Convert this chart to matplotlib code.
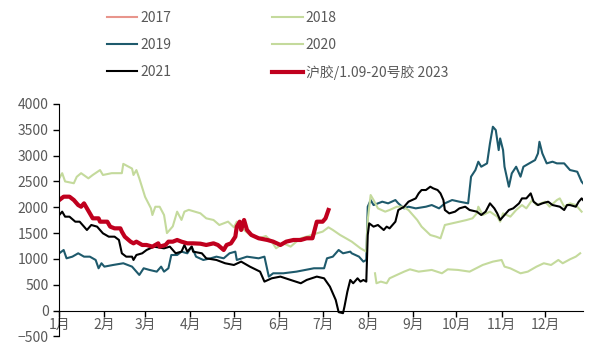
import matplotlib
matplotlib.use("Agg")
import matplotlib.pyplot as plt

plt.rcParams['font.family'] = ['Noto Sans CJK SC', 'DejaVu Sans']

# 月份刻度（年内第几天）
month_days = [0, 31, 59, 90, 120, 151, 181, 212, 243, 273, 304, 334]
month_labels = ["1月", "2月", "3月", "4月", "5月", "6月", "7月", "8月", "9月", "10月", "11月", "12月"]

# 2018（8月开始）
d2018 = [217, 218, 221, 225, 227, 232, 237, 241, 247, 256, 263, 267, 274, 282, 291, 298, 304, 306,
         310, 317, 322, 328, 333, 338, 343, 346, 351, 355, 358]
v2018 = [722, 529, 561, 529, 625, 690, 754, 799, 754, 787, 722, 799, 787, 754, 883, 948, 980, 851,
         818, 722, 754, 851, 916, 883, 980, 916, 993, 1044, 1109]

# 2019
d2019 = [0, 3, 5, 9, 13, 17, 21, 25, 27, 29, 31, 37, 44, 50, 55, 58, 62, 67, 70, 72, 75, 77, 81, 84,
         88, 91, 94, 99, 104, 108, 113, 117, 121, 122, 129, 137, 141, 144, 147, 154, 163, 175, 182,
         184, 188, 192, 195, 200, 201, 206, 209, 211, 212, 214, 216, 222, 226, 231, 233, 237, 240,
         245, 252, 256, 261, 265, 270, 275, 281, 283, 286, 288, 290, 294, 296, 298, 300, 302, 303,
         305, 306, 309, 311, 314, 317, 319, 323, 327, 329, 330, 332, 335, 339, 342, 347, 351, 356,
         359, 361]
v2019 = [1109, 1173, 1012, 1044, 1109, 1044, 1044, 980, 819, 916, 851, 883, 916, 851, 690, 819, 787,
         754, 851, 754, 819, 1076, 1076, 1141, 1109, 1238, 1044, 980, 1012, 1044, 1012, 1109, 1141,
         980, 1044, 1012, 1044, 657, 722, 722, 754, 819, 819, 1012, 1044, 1173, 1109, 1141, 1109,
         1044, 948, 980, 2011, 2140, 2043, 2108, 2076, 2140, 2076, 1979, 2011, 1979, 2011, 2043,
         1979, 2076, 2140, 2108, 2076, 2592, 2721, 2882, 2785, 2850, 3236, 3559, 3494, 3107, 3333,
         3107, 2785, 2398, 2656, 2785, 2592, 2785, 2850, 2914, 3043, 3268, 3043, 2850, 2882, 2850,
         2850, 2721, 2688, 2495, 2430]

# 2020
d2020 = [0, 2, 4, 10, 12, 15, 20, 23, 28, 30, 36, 43, 44, 50, 51, 53, 55, 59, 63, 64, 66, 69, 72,
         74, 78, 81, 84, 86, 89, 97, 101, 106, 110, 116, 120, 122, 127, 131, 137, 142, 146, 149,
         154, 159, 163, 166, 170, 177, 181, 185, 188, 193, 197, 201, 207, 211, 212, 214, 216, 219,
         224, 227, 232, 236, 240, 242, 246, 249, 255, 259, 262, 265, 270, 275, 280, 284, 287, 288,
         291, 296, 301, 303, 305, 310, 314, 318, 321, 325, 328, 334, 337, 342, 344, 347, 351, 355,
         359]
v2020 = [2560, 2660, 2500, 2465, 2590, 2660, 2560, 2625, 2720, 2625, 2660, 2660, 2840, 2750, 2625,
         2720, 2560, 2200, 1980, 1850, 2010, 2010, 1850, 1500, 1630, 1915, 1755, 1915, 1950, 1883,
         1786, 1754, 1657, 1722, 1612, 1722, 1561, 1464, 1400, 1444, 1335, 1206, 1303, 1238, 1335,
         1400, 1432, 1496, 1528, 1612, 1561, 1464, 1400, 1335, 1206, 1141, 1754, 2237, 2140, 1979,
         1915, 1947, 2011, 2011, 1947, 1882, 1754, 1625, 1463, 1431, 1399, 1657, 1689, 1721, 1754,
         1786, 1883, 2011, 1850, 1915, 1818, 1721, 1883, 1818, 1947, 2043, 1979, 2140, 2043, 2108,
         2011, 2140, 2172, 2011, 2076, 2043, 1915]

# 2021
d2021 = [0, 2, 4, 7, 11, 14, 17, 19, 22, 26, 28, 30, 34, 38, 41, 43, 46, 50, 51, 53, 57, 60, 65,
         72, 76, 80, 84, 86, 88, 91, 92, 98, 101, 108, 114, 120, 125, 131, 138, 141, 146, 152, 159,
         166, 170, 177, 182, 186, 190, 192, 195, 196, 198, 200, 202, 205, 207, 209, 211, 212, 213,
         216, 219, 223, 225, 227, 231, 233, 237, 240, 245, 247, 249, 252, 255, 257, 260, 262, 264,
         265, 268, 272, 275, 279, 282, 287, 290, 293, 296, 299, 301, 303, 305, 309, 312, 316, 318,
         321, 324, 326, 329, 332, 336, 339, 344, 347, 349, 351, 355, 357, 359, 361]
v2021 = [1850, 1915, 1818, 1818, 1721, 1721, 1625, 1560, 1657, 1625, 1560, 1496, 1431, 1431, 1367,
         1109, 1044, 1044, 980, 1076, 1109, 1173, 1238, 1205, 1238, 1109, 1141, 1270, 1141, 1238,
         1141, 1109, 1012, 980, 916, 883, 948, 851, 754, 561, 625, 658, 593, 529, 593, 658, 625,
         464, 206, -30, -50, 77, 367, 593, 529, 625, 561, 593, 561, 1463, 1689, 1625, 1657, 1560,
         1625, 1592, 1721, 1947, 2011, 2108, 2172, 2269, 2334, 2334, 2398, 2366, 2334, 2269, 2140,
         1947, 1882, 1915, 1979, 2011, 1947, 1915, 1850, 1915, 2076, 1979, 1882, 1754, 1818, 1947,
         1979, 2076, 2172, 2172, 2269, 2108, 2043, 2076, 2108, 2043, 2011, 1947, 2043, 2043, 2011,
         2108, 2172, 2108]

# 沪胶/1.09-20号胶 2023
d2023 = [0, 3, 7, 10, 13, 15, 17, 19, 21, 23, 27, 28, 33, 35, 38, 42, 43, 45, 49, 51, 53, 57, 60,
         64, 66, 68, 69, 73, 75, 78, 81, 84, 88, 92, 97, 101, 106, 109, 113, 115, 118, 121, 122,
         124, 125, 127, 129, 132, 137, 143, 147, 152, 156, 161, 166, 170, 174, 177, 181, 183, 185]
v2023 = [2140, 2205, 2205, 2140, 2043, 2011, 2076, 1979, 1883, 1786, 1786, 1721, 1721, 1625, 1592,
         1592, 1528, 1431, 1334, 1302, 1334, 1270, 1270, 1238, 1270, 1302, 1238, 1270, 1334, 1334,
         1367, 1334, 1302, 1302, 1295, 1270, 1302, 1270, 1173, 1270, 1302, 1431, 1625, 1721, 1560,
         1754, 1560, 1464, 1400, 1367, 1335, 1270, 1335, 1367, 1367, 1400, 1400, 1721, 1721, 1786,
         1947]

green = "#C4DA9C"
teal = "#1E5A6C"
red = "#C0001E"
gray = "#595959"

fig = plt.figure(figsize=(6, 3.56), dpi=100)
ax = fig.add_axes([0.0988, 0.055, 0.873, 0.653])

l2017, = ax.plot([], [], color="#E8958C", lw=1.5, label="2017")
l2018, = ax.plot(d2018, v2018, color=green, lw=1.5, label="2018")
l2019, = ax.plot(d2019, v2019, color=teal, lw=1.5, label="2019")
l2020, = ax.plot(d2020, v2020, color=green, lw=1.5, label="2020")
l2021, = ax.plot(d2021, v2021, color="black", lw=1.5, label="2021")
l2023, = ax.plot(d2023, v2023, color=red, lw=3, label="沪胶/1.09-20号胶 2023")

ax.set_xlim(0, 360)
ax.set_ylim(-500, 4000)
ax.set_yticks(range(-500, 4001, 500))
ax.set_xticks(month_days)
ax.set_xticklabels(month_labels)

for s in ["top", "right"]:
    ax.spines[s].set_visible(False)
ax.spines["bottom"].set_position(("data", 0))
ax.spines["left"].set_color("black")
ax.spines["bottom"].set_color("black")
ax.tick_params(axis="both", colors=gray, labelsize=10, length=4, width=1)
ax.tick_params(axis="x", pad=1)
ax.tick_params(axis="both", color="black")

handles = [l2017, l2019, l2021, l2018, l2020, l2023]
leg = fig.legend(handles=handles, labels=[h.get_label() for h in handles], ncol=2,
                 loc="upper left", bbox_to_anchor=(0.157, 1.005), frameon=False,
                 fontsize=10, handlelength=2.2, handletextpad=0.2, columnspacing=7.3,
                 labelspacing=0.95, labelcolor=gray)

fig.savefig("out.png", dpi=100)
